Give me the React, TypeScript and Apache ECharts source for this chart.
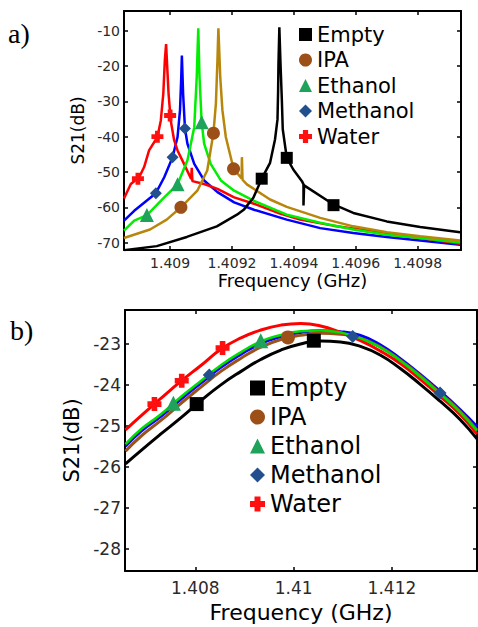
import React, { useEffect, useRef } from "react";
import * as echarts from "echarts";

// ---------- Panel a data: [frequency GHz, S21 dB] ----------
const EMPTY_A: [number, number][] = [
  [1.408851, -72.2], [1.408957, -71.0], [1.409054, -68.4], [1.409151, -65.4], [1.409216, -62.1],
  [1.409239, -60.6], [1.409269, -57.3], [1.409296, -51.9], [1.409323, -47.4], [1.409339, -40.8],
  [1.409347, -35.1], [1.409349, -27.0], [1.40935, -20.0], [1.409353, -9.0], [1.409357, -20.0],
  [1.409361, -29.4], [1.409364, -37.9], [1.409377, -46.0], [1.409398, -49.3], [1.409426, -52.6],
  [1.409431, -53.5], [1.409431, -59.5], [1.409433, -53.8], [1.409528, -59.2], [1.409592, -61.6],
  [1.4097, -64.0], [1.409808, -65.6], [1.409937, -67.1],
];
const IPA_A: [number, number][] = [
  [1.408851, -68.7], [1.408935, -66.3], [1.408989, -63.5], [1.409035, -60.0], [1.409088, -55.3],
  [1.40912, -49.6], [1.40914, -39.0], [1.409148, -30.6], [1.409153, -18.3], [1.409156, -9.3],
  [1.409162, -23.1], [1.409169, -32.5], [1.40918, -40.1], [1.409205, -49.1], [1.409231, -51.8],
  [1.409232, -45.8], [1.409234, -52.2], [1.409248, -53.5], [1.409323, -57.8], [1.409377, -59.9],
  [1.409485, -63.0], [1.409592, -65.4], [1.4097, -67.1], [1.409808, -68.2], [1.409937, -69.4],
];
const ETHANOL_A: [number, number][] = [
  [1.408851, -66.6], [1.408884, -63.8], [1.408925, -62.2], [1.408981, -57.2], [1.409024, -53.5],
  [1.409056, -46.7], [1.409078, -37.3], [1.409086, -23.1], [1.409091, -9.3], [1.409095, -23.1],
  [1.409102, -35.9], [1.40911, -42.0], [1.409131, -47.7], [1.409164, -52.4], [1.409207, -55.3],
  [1.409271, -58.2], [1.409377, -62.1], [1.409485, -64.4], [1.409592, -66.3], [1.4097, -67.8],
  [1.409808, -68.7], [1.409937, -70.0],
];
const METHANOL_A: [number, number][] = [
  [1.408851, -63.8], [1.408884, -61.0], [1.408954, -56.0], [1.408981, -51.5], [1.409008, -45.8],
  [1.409024, -40.1], [1.409032, -32.5], [1.409036, -23.1], [1.409038, -17.0], [1.409042, -27.8],
  [1.409048, -37.7], [1.409056, -42.0], [1.409078, -47.7], [1.40911, -52.4], [1.409153, -55.7],
  [1.409207, -58.6], [1.409271, -60.7], [1.409377, -63.5], [1.409485, -65.9], [1.409592, -67.3],
  [1.4097, -68.4], [1.409808, -69.4], [1.409937, -70.6],
];
const WATER_A: [number, number][] = [
  [1.408851, -57.5], [1.408873, -53.4], [1.4089, -51.5], [1.408916, -48.6], [1.408932, -43.9],
  [1.408959, -40.1], [1.40897, -35.4], [1.408978, -27.8], [1.408983, -18.3], [1.408987, -13.8],
  [1.408995, -27.8], [1.409002, -35.4], [1.409013, -41.0], [1.409024, -43.9], [1.409045, -47.7],
  [1.409068, -52.0], [1.40907, -48.8], [1.409072, -52.6], [1.40911, -53.4], [1.409153, -54.8],
  [1.409207, -57.2], [1.409271, -59.0], [1.409355, -61.8], [1.40942, -63.5], [1.409527, -65.2],
  [1.409637, -66.6], [1.409743, -68.0], [1.40985, -69.2], [1.409937, -70.3],
];

const EMPTY_A_MARKS: [number, number][] = [[1.409296, -51.9], [1.409377, -46.0], [1.409528, -59.4]];
const IPA_A_MARKS: [number, number][] = [[1.409035, -60.0], [1.40914, -39.0], [1.409205, -49.1]];
const ETHANOL_A_MARKS: [number, number][] = [[1.408925, -62.2], [1.409024, -53.5], [1.409102, -35.9]];
const METHANOL_A_MARKS: [number, number][] = [[1.408954, -56.0], [1.409008, -45.8], [1.409048, -37.7]];
const WATER_A_MARKS: [number, number][] = [[1.408896, -51.9], [1.408959, -40.0], [1.409, -34.0]];

// ---------- Panel b data ----------
const FREQ_B = [
  1.40658, 1.4069, 1.4073, 1.40771, 1.40812, 1.40852, 1.40893, 1.40933, 1.40974, 1.41014,
  1.41055, 1.41095, 1.41136, 1.41176, 1.41217, 1.41257, 1.41298, 1.41338, 1.41373,
];
const EMPTY_B = [-25.93, -25.6, -25.2, -24.8, -24.38, -24.0, -23.67, -23.38, -23.15, -23.0, -22.93, -22.95, -23.06, -23.27, -23.6, -23.98, -24.4, -24.84, -25.32];
const IPA_B = [-25.62, -25.25, -24.87, -24.45, -24.05, -23.67, -23.35, -23.08, -22.89, -22.79, -22.74, -22.76, -22.86, -23.07, -23.4, -23.77, -24.2, -24.64, -25.1];
const ETHANOL_B = [-25.45, -25.08, -24.72, -24.29, -23.9, -23.52, -23.2, -22.94, -22.78, -22.69, -22.67, -22.72, -22.86, -23.08, -23.41, -23.79, -24.22, -24.66, -25.12];
const METHANOL_B = [-25.5, -25.13, -24.77, -24.35, -23.95, -23.57, -23.25, -22.99, -22.82, -22.72, -22.68, -22.7, -22.79, -23.02, -23.36, -23.74, -24.16, -24.6, -25.02];
const WATER_B = [-25.1, -24.75, -24.33, -23.91, -23.52, -23.13, -22.85, -22.66, -22.54, -22.5, -22.56, -22.72, -22.92, -23.17, -23.48, -23.86, -24.28, -24.72, -25.2];

const EMPTY_B_MARKS: [number, number][] = [[1.408028, -24.47], [1.410411, -22.92]];
const IPA_B_MARKS: [number, number][] = [[1.409884, -22.84]];
const ETHANOL_B_MARKS: [number, number][] = [[1.407554, -24.45], [1.409331, -22.92]];
const METHANOL_B_MARKS: [number, number][] = [[1.408284, -23.76], [1.411202, -22.82], [1.412979, -24.2]];
const WATER_B_MARKS: [number, number][] = [[1.407169, -24.47], [1.407724, -23.9], [1.408555, -23.1]];

// ---------- Axis ticks ----------
const TICKS_AX = [1.409, 1.4092, 1.4094, 1.4096, 1.4098];
const TICKS_AY = [-70, -60, -50, -40, -30, -20, -10];
const TICKS_BX = [1.408, 1.41, 1.412];
const TICKS_BY = [-28, -27, -26, -25, -24, -23];

const NAMES = ["Empty", "IPA", "Ethanol", "Methanol", "Water"];

const PLUS = "path://M3,0H7V3H10V7H7V10H3V7H0V3H3Z";

const STYLE: Record<string, { lineA: string; lineB: string; mark: string; symbol: string }> = {
  Empty: { lineA: "#000000", lineB: "#000000", mark: "#000000", symbol: "rect" },
  IPA: { lineA: "#b8860b", lineB: "#9a531c", mark: "#9c4f16", symbol: "circle" },
  Ethanol: { lineA: "#00ee00", lineB: "#00dd00", mark: "#1fa25a", symbol: "triangle" },
  Methanol: { lineA: "#0000ff", lineB: "#0000ff", mark: "#22508f", symbol: "diamond" },
  Water: { lineA: "#ff0000", lineB: "#ff0000", mark: "#ff1010", symbol: PLUS },
};

const fmt = (v: number) => String(Number(Number(v).toFixed(5)));
const TICK_FONT = "DejaVu Sans";
const LEGEND_FONT = "DejaVu Sans";

function mkX(gridIndex: number, min: number, max: number, ticks: number[], position: string, fontSize: number, name: string, nameGap: number, labelMargin: number, nameSize: number) {
  const main = position === "bottom";
  return {
    type: "value",
    gridIndex,
    position,
    min,
    max,
    name: main ? name : "",
    nameLocation: "middle",
    nameGap,
    nameTextStyle: { fontFamily: TICK_FONT, fontSize: nameSize, color: "#000" },
    axisLine: { show: true, onZero: false, lineStyle: { color: "#000", width: 2 } },
    axisTick: { show: true, inside: true, length: 4, customValues: ticks, lineStyle: { color: "#000", width: 1.5 } },
    axisLabel: { show: main, customValues: ticks, formatter: fmt, margin: labelMargin, fontFamily: TICK_FONT, fontSize, color: "#2a2a2a" },
    splitLine: { show: false },
  };
}

function mkY(gridIndex: number, min: number, max: number, ticks: number[], position: string, fontSize: number, name: string, nameGap: number, nameSize: number) {
  const main = position === "left";
  return {
    type: "value",
    gridIndex,
    position,
    min,
    max,
    name: main ? name : "",
    nameLocation: "middle",
    nameGap,
    nameTextStyle: { fontFamily: TICK_FONT, fontSize: nameSize, color: "#000" },
    axisLine: { show: true, onZero: false, lineStyle: { color: "#000", width: 2 } },
    axisTick: { show: true, inside: true, length: 4, customValues: ticks, lineStyle: { color: "#000", width: 1.5 } },
    axisLabel: { show: main, customValues: ticks, formatter: fmt, margin: 4, fontFamily: TICK_FONT, fontSize, color: "#2a2a2a" },
    splitLine: { show: false },
  };
}

function legendFor(left: number, top: number, fontSize: number, lineHeight: number, gap: number, icon: number) {
  return {
    orient: "vertical",
    left,
    top,
    itemWidth: icon,
    itemHeight: icon,
    itemGap: gap,
    selectedMode: false,
    textStyle: { fontFamily: LEGEND_FONT, fontSize, lineHeight, color: "#000" },
    data: NAMES.map((n) => ({ name: n, icon: STYLE[n].symbol, itemStyle: { color: STYLE[n].mark, opacity: 1, borderWidth: 0 } })),
  };
}

export default function App() {
  const ref = useRef<HTMLDivElement>(null);

  useEffect(() => {
    if (!ref.current) return;
    const chart = echarts.init(ref.current, undefined, { renderer: "svg" });

    const linesA: Record<string, [number, number][]> = {
      Empty: EMPTY_A, IPA: IPA_A, Ethanol: ETHANOL_A, Methanol: METHANOL_A, Water: WATER_A,
    };
    const marksA: Record<string, [number, number][]> = {
      Empty: EMPTY_A_MARKS, IPA: IPA_A_MARKS, Ethanol: ETHANOL_A_MARKS, Methanol: METHANOL_A_MARKS, Water: WATER_A_MARKS,
    };
    const linesB: Record<string, number[]> = {
      Empty: EMPTY_B, IPA: IPA_B, Ethanol: ETHANOL_B, Methanol: METHANOL_B, Water: WATER_B,
    };
    const marksB: Record<string, [number, number][]> = {
      Empty: EMPTY_B_MARKS, IPA: IPA_B_MARKS, Ethanol: ETHANOL_B_MARKS, Methanol: METHANOL_B_MARKS, Water: WATER_B_MARKS,
    };

    const sizeA: Record<string, number> = { Empty: 12, IPA: 13, Ethanol: 14, Methanol: 12, Water: 12 };
    const sizeB: Record<string, number> = { Empty: 14, IPA: 14, Ethanol: 15, Methanol: 13, Water: 14 };

    const series: any[] = [];
    NAMES.forEach((n) => {
      series.push({
        name: n, type: "scatter", xAxisIndex: 0, yAxisIndex: 0, data: marksA[n],
        symbol: STYLE[n].symbol, symbolSize: sizeA[n], itemStyle: { color: STYLE[n].mark, opacity: 1 }, z: 10,
      });
      series.push({
        name: n, type: "scatter", xAxisIndex: 2, yAxisIndex: 2, data: marksB[n],
        symbol: STYLE[n].symbol, symbolSize: sizeB[n], itemStyle: { color: STYLE[n].mark, opacity: 1 }, z: 10,
      });
    });
    const orderA = ["Methanol", "Water", "Ethanol", "IPA", "Empty"];
    orderA.forEach((n, i) => {
      series.push({
        name: n, type: "line", xAxisIndex: 0, yAxisIndex: 0, data: linesA[n], showSymbol: false,
        lineStyle: { color: STYLE[n].lineA, width: 2.5 }, itemStyle: { color: STYLE[n].lineA }, z: 2 + i * 0.1,
      });
    });
    const orderB = ["Empty", "Methanol", "IPA", "Water", "Ethanol"];
    orderB.forEach((n, i) => {
      series.push({
        name: n, type: "line", xAxisIndex: 2, yAxisIndex: 2, smooth: true, showSymbol: false,
        data: FREQ_B.map((f, k) => [f, linesB[n][k]]),
        lineStyle: { color: STYLE[n].lineB, width: n === "Ethanol" ? 2.5 : 3 }, itemStyle: { color: STYLE[n].lineB }, z: 2 + i * 0.1,
      });
    });

    chart.setOption({
      animation: false,
      backgroundColor: "#fff",
      grid: [
        { left: 124, top: 11, width: 337, height: 239, containLabel: false },
        { left: 125, top: 310, width: 352, height: 261, containLabel: false },
      ],
      xAxis: [
        mkX(0, 1.408851, 1.40994, TICKS_AX, "bottom", 14, "Frequency (GHz)", 21, 6, 18),
        mkX(0, 1.408851, 1.40994, TICKS_AX, "top", 14, "", 0, 6, 18),
        mkX(1, 1.40657, 1.41373, TICKS_BX, "bottom", 17, "Frequency (GHz)", 30, 8, 22),
        mkX(1, 1.40657, 1.41373, TICKS_BX, "top", 17, "", 0, 8, 22),
      ],
      yAxis: [
        mkY(0, -72.1, -4.4, TICKS_AY, "left", 14, "S21(dB)", 31, 17),
        mkY(0, -72.1, -4.4, TICKS_AY, "right", 14, "", 0, 17),
        mkY(1, -28.55, -22.17, TICKS_BY, "left", 17, "S21(dB)", 40, 21),
        mkY(1, -28.55, -22.17, TICKS_BY, "right", 17, "", 0, 21),
      ],
      legend: [
        legendFor(294, 19, 21, 21, 4.5, 13),
        legendFor(245, 371, 24, 24, 5, 15),
      ],
      graphic: [
        { type: "text", left: 8, top: 19, style: { text: "a)", fontFamily: "Liberation Serif", fontSize: 28, fill: "#000" } },
        { type: "text", left: 10, top: 316, style: { text: "b)", fontFamily: "Liberation Serif", fontSize: 28, fill: "#000" } },
      ],
      series,
    });

    return () => chart.dispose();
  }, []);

  return (
    <div
      ref={ref}
      style={{ position: "absolute", left: 0, top: 0, width: 478, height: 627, background: "#fff" }}
    />
  );
}
